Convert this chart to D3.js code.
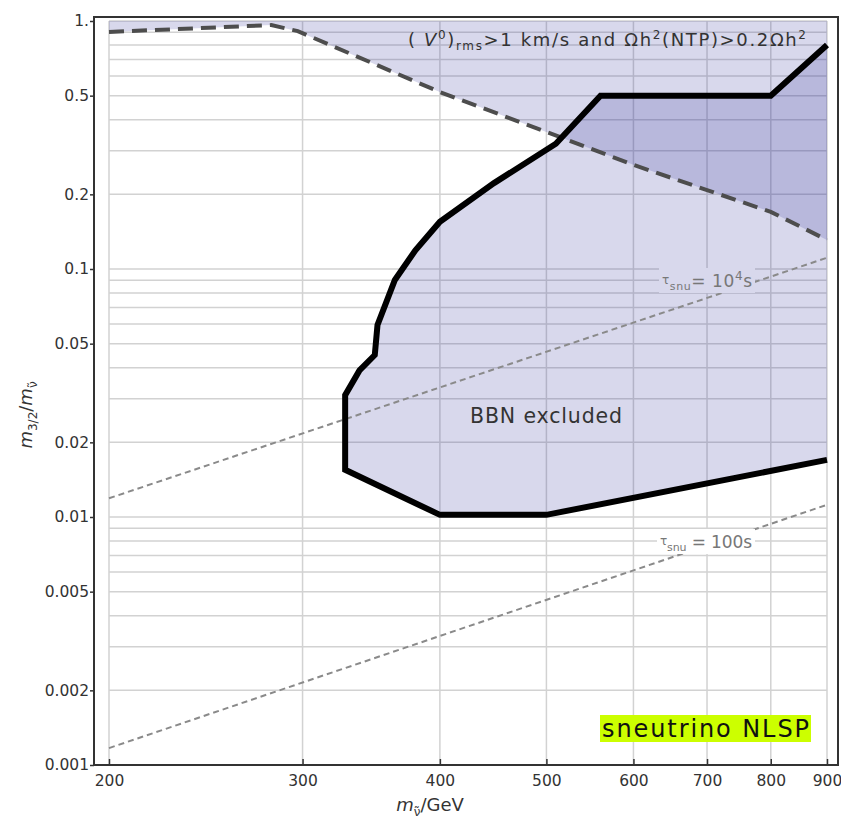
<!DOCTYPE html>
<html>
<head>
<meta charset="utf-8">
<script src="https://cdn.jsdelivr.net/npm/d3@7"></script>
<style>
body { margin: 0; background: #fff; }
svg { display: block; font-family: "DejaVu Sans", sans-serif; }
.axis text { font-family: "DejaVu Sans", sans-serif; font-size: 15.5px; fill: #333; }
.axis line { stroke: #333; stroke-width: 1.5; }
.axis path { display: none; }
.grid line { stroke: #d2d2d2; stroke-width: 1.5; }
</style>
</head>
<body>
<svg class="chart"></svg>
<script>
// tick values
var xTicks = [200, 300, 400, 500, 600, 700, 800, 900];
var yTicks = [1, 0.5, 0.2, 0.1, 0.05, 0.02, 0.01, 0.005, 0.002, 0.001];
var yTickLabels = ["1.", "0.5", "0.2", "0.1", "0.05", "0.02", "0.01", "0.005", "0.002", "0.001"];

// dashed boundary: (v0)rms > 1 km/s and Omega h^2 (NTP) > 0.2 Omega h^2
var velMass = [200, 281, 297, 400, 500, 600, 700, 800, 900];
var velRatio = [0.903, 0.963, 0.91, 0.517, 0.357, 0.263, 0.208, 0.17, 0.131];

// BBN excluded contour
var bbnMass = [900, 800, 560, 510, 448, 400, 380, 364, 351, 349, 338, 328, 328, 400, 500, 900];
var bbnRatio = [0.8, 0.5, 0.5, 0.32, 0.222, 0.155, 0.119, 0.0903, 0.0595, 0.045, 0.039, 0.031, 0.0155, 0.0102, 0.0102, 0.017];

// lifetime lines
var tau4Mass = [200, 900];
var tau4Ratio = [0.0119, 0.111];
var tau100Mass = [200, 900];
var tau100Ratio = [0.00117, 0.0112];

var margin = { top: 17, right: 3, bottom: 62, left: 94 },
width = 841 - margin.left - margin.right,
height = 827 - margin.top - margin.bottom;

var x = d3.scaleLog()
  .domain([200, 900])
  .range([15, 733]);
var y = d3.scaleLog()
  .domain([0.001, 1])
  .range([748, 4]);

function zip(a, b) {
  return a.map(function(v, i) { return [v, b[i]]; });
}

var line = d3.line()
  .x(function(d) { return x(d[0]); })
  .y(function(d) { return y(d[1]); });
var topArea = d3.area()
  .x(function(d) { return x(d[0]); })
  .y0(y(1))
  .y1(function(d) { return y(d[1]); });

var root = d3.select(".chart")
  .attr("width", width + margin.left + margin.right)
  .attr("height", height + margin.top + margin.bottom);
var svg = root.append("g")
  .attr("transform", "translate(" + margin.left + "," + margin.top + ")");

// grid
var grid = svg.append("g").attr("class", "grid");
grid.selectAll(".h")
  .data(y.ticks())
  .enter().append("line")
    .attr("x1", x(200)).attr("x2", x(900))
    .attr("y1", function(d) { return y(d); })
    .attr("y2", function(d) { return y(d); });
grid.selectAll(".v")
  .data(xTicks)
  .enter().append("line")
    .attr("x1", function(d) { return x(d); })
    .attr("x2", function(d) { return x(d); })
    .attr("y1", y(1)).attr("y2", y(0.001));

// shaded regions
var shade = "rgb(39,39,150)";
svg.append("path")
  .datum(zip(velMass, velRatio))
  .attr("d", topArea)
  .attr("fill", shade)
  .attr("fill-opacity", 0.18);
svg.append("path")
  .datum(zip(bbnMass, bbnRatio))
  .attr("d", function(d) { return line(d) + "Z"; })
  .attr("fill", shade)
  .attr("fill-opacity", 0.18);

// lifetime lines
svg.append("path")
  .datum(zip(tau4Mass, tau4Ratio))
  .attr("d", line)
  .attr("fill", "none")
  .attr("stroke", "#8a8a8a")
  .attr("stroke-width", 2)
  .attr("stroke-dasharray", "6,4");
svg.append("path")
  .datum(zip(tau100Mass, tau100Ratio))
  .attr("d", line)
  .attr("fill", "none")
  .attr("stroke", "#8a8a8a")
  .attr("stroke-width", 2)
  .attr("stroke-dasharray", "6,4");

// contours
svg.append("path")
  .datum(zip(velMass, velRatio))
  .attr("d", line)
  .attr("fill", "none")
  .attr("stroke", "#4d4d4d")
  .attr("stroke-width", 4)
  .attr("stroke-dasharray", "15,8");
svg.append("path")
  .datum(zip(bbnMass, bbnRatio))
  .attr("d", line)
  .attr("fill", "none")
  .attr("stroke", "#000")
  .attr("stroke-width", 6);

// axes
var xAxis = d3.axisBottom(x)
  .tickValues(xTicks)
  .tickFormat(d3.format("d"))
  .tickSize(-6)
  .tickPadding(10);
var yAxis = d3.axisLeft(y)
  .tickValues(yTicks)
  .tickFormat(function(d, i) { return yTickLabels[i]; })
  .tickSize(4)
  .tickPadding(1);
svg.append("g")
  .attr("class", "x axis")
  .attr("transform", "translate(0," + height + ")")
  .call(xAxis);
svg.append("g")
  .attr("class", "y axis")
  .call(yAxis);

svg.append("rect")
  .attr("width", width)
  .attr("height", height)
  .attr("fill", "none")
  .attr("stroke", "#333")
  .attr("stroke-width", 2);

// labels
var lab = svg.append("text")
  .attr("x", 408 - margin.left)
  .attr("y", 46 - margin.top)
  .attr("font-size", 18)
  .attr("fill", "#333")
  .attr("textLength", 398)
  .attr("lengthAdjust", "spacing");
lab.append("tspan").text("( ");
lab.append("tspan").attr("font-style", "italic").text("V");
lab.append("tspan").attr("font-size", 12).attr("dy", -7).text("0");
lab.append("tspan").attr("dy", 7).text(")");
lab.append("tspan").attr("font-size", 12).attr("dy", 4).text("rms");
lab.append("tspan").attr("dy", -4).text(">1 km/s and \u03a9h");
lab.append("tspan").attr("font-size", 12).attr("dy", -7).text("2");
lab.append("tspan").attr("dy", 7).text("(NTP)>0.2\u03a9h");
lab.append("tspan").attr("font-size", 12).attr("dy", -7).text("2");

function tauLabel(px, py, w, bg, power) {
  svg.append("rect")
    .attr("x", px - margin.left - 3).attr("y", py - margin.top - 19)
    .attr("width", w).attr("height", 25)
    .attr("fill", bg);
  var t = svg.append("text")
    .attr("x", px - margin.left)
    .attr("y", py - margin.top)
    .attr("font-size", 17)
    .attr("fill", "#777")
    .attr("textLength", w - 6)
    .attr("lengthAdjust", "spacing");
  t.append("tspan").attr("font-size", 12).attr("dy", -3).text("\u03c4");
  t.append("tspan").attr("font-size", 11).attr("dy", 6).text("snu");
  if (power) {
    t.append("tspan").attr("dy", -3).text("= 10");
    t.append("tspan").attr("font-size", 12).attr("dy", -7).text("4");
    t.append("tspan").attr("dy", 7).text("s");
  } else {
    t.append("tspan").attr("dy", -3).text(" = 100s");
  }
}
tauLabel(662, 287, 96, "rgb(216,216,236)", true);
tauLabel(660, 548, 98, "#fff", false);

svg.append("text")
  .attr("x", 470 - margin.left)
  .attr("y", 423 - margin.top)
  .attr("font-size", 20.5)
  .attr("fill", "#333")
  .attr("textLength", 152)
  .attr("lengthAdjust", "spacing")
  .text("BBN excluded");

svg.append("rect")
  .attr("x", 600 - margin.left).attr("y", 715 - margin.top)
  .attr("width", 211).attr("height", 27)
  .attr("fill", "#ccff00");
svg.append("text")
  .attr("x", 602 - margin.left)
  .attr("y", 737 - margin.top)
  .attr("font-size", 24)
  .attr("fill", "#111")
  .attr("textLength", 207)
  .attr("lengthAdjust", "spacing")
  .text("sneutrino NLSP");

// axis titles
var xt = root.append("text")
  .attr("x", 430).attr("y", 811)
  .attr("text-anchor", "middle")
  .attr("font-size", 18)
  .attr("fill", "#333");
xt.append("tspan").attr("font-style", "italic").text("m");
xt.append("tspan").attr("font-size", 12).attr("dy", 5).text("\u03bd\u0303");
xt.append("tspan").attr("dy", -5).text("/GeV");

var yt = root.append("text")
  .attr("transform", "translate(32,415) rotate(-90)")
  .attr("text-anchor", "middle")
  .attr("font-size", 18)
  .attr("fill", "#333");
yt.append("tspan").attr("font-style", "italic").text("m");
yt.append("tspan").attr("font-size", 12).attr("dy", 5).text("3/2");
yt.append("tspan").attr("dy", -5).text("/");
yt.append("tspan").attr("font-style", "italic").text("m");
yt.append("tspan").attr("font-size", 12).attr("dy", 5).text("\u03bd\u0303");
</script>
</body>
</html>
